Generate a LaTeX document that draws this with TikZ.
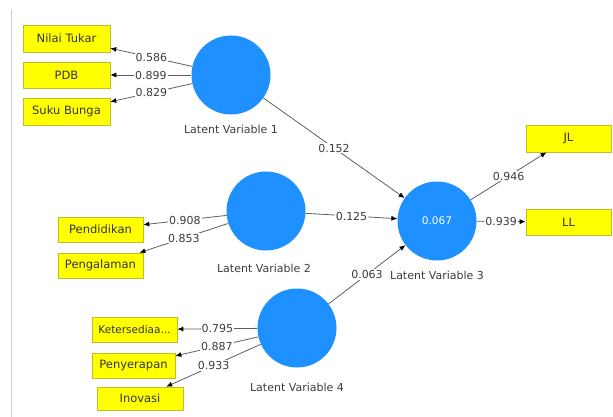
\documentclass[tikz,border=0pt]{standalone}
\usepackage{fontspec}
\setmainfont{DejaVu Sans}
\usetikzlibrary{arrows.meta}
\definecolor{lvblue}{RGB}{30,144,255}
\definecolor{mvyellow}{RGB}{255,255,0}
\definecolor{mvborder}{RGB}{190,190,40}
\definecolor{edgegray}{RGB}{95,95,95}
\definecolor{txtgray}{RGB}{60,60,60}
\tikzset{
  latent/.style={circle, fill=lvblue, draw=none, minimum size=79pt, inner sep=0pt,
    text=white, font=\fontsize{10.5}{12}\selectfont},
  lvlabel/.style={text=txtgray, font=\fontsize{11}{12}\selectfont, inner sep=0pt},
  manifest/.style={rectangle, fill=mvyellow, draw=mvborder, line width=0.6pt,
    inner sep=0pt, text=black!80, font=\fontsize{11.5}{12}\selectfont},
  path/.style={draw=edgegray, line width=0.8pt, -{Latex[length=6pt,width=5pt,color=black]}},
  coef/.style={fill=white, inner sep=1pt, text=txtgray, font=\fontsize{11}{12}\selectfont}
}
\begin{document}
\begin{tikzpicture}[x=1pt,y=-1pt]
\useasboundingbox (0,0) rectangle (613,417);
\draw[black!20, line width=0.8pt] (11,10) -- (11,417);

% latent variables
\node[latent] (lv1) at (231,75) {};
\node[latent] (lv2) at (266,211) {};
\node[latent] (lv3) at (437,221) {0.067};
\node[latent] (lv4) at (297,328) {};

\node[lvlabel] (lab1) at (231,129) {Latent Variable 1};
\node[lvlabel] (lab2) at (264,268) {Latent Variable 2};
\node[lvlabel] (lab3) at (437,275) {Latent Variable 3};
\node[lvlabel] (lab4) at (297,387) {Latent Variable 4};

% indicators
\node[manifest, minimum width=87pt, minimum height=27pt] (nt) at (66.5,38.5) {Nilai Tukar};
\node[manifest, minimum width=87pt, minimum height=26pt] (pdb) at (66.5,75) {PDB};
\node[manifest, minimum width=87pt, minimum height=27pt] (sb) at (66.5,111.5) {Suku Bunga};
\node[manifest, minimum width=85pt, minimum height=25pt] (pend) at (100.5,229.5) {Pendidikan};
\node[manifest, minimum width=85pt, minimum height=25pt] (peng) at (100.5,265.5) {Pengalaman};
\node[manifest, minimum width=85pt, minimum height=25pt, font=\fontsize{10.5}{12}\selectfont] (ket) at (134.5,329.5) {Ketersediaa...};
\node[manifest, minimum width=83pt, minimum height=25pt] (peny) at (133.5,365.5) {Penyerapan};
\node[manifest, minimum width=86pt, minimum height=23pt] (ino) at (140,398.5) {Inovasi};
\node[manifest, minimum width=85pt, minimum height=27pt] (jl) at (568.5,138.5) {JL};
\node[manifest, minimum width=85pt, minimum height=26pt] (ll) at (568.5,222) {LL};

% outer loadings
\draw[path] (lv1) -- node[coef] {0.586} (nt);
\draw[path] (lv1) -- node[coef] {0.899} (pdb);
\draw[path] (lv1) -- node[coef] {0.829} (sb);
\draw[path] (lv2) -- node[coef] {0.908} (pend);
\draw[path] (lv2) -- node[coef] {0.853} (peng);
\draw[path] (lv4) -- node[coef] {0.795} (ket);
\draw[path] (lv4) -- node[coef] {0.887} (peny);
\draw[path] (lv4) -- node[coef] {0.933} (ino);
\draw[path] (lv3) -- node[coef] {0.946} (jl);
\draw[path] (lv3) -- node[coef] {0.939} (ll);

% path coefficients
\draw[path] (lv1) -- node[coef] {0.152} (lv3);
\draw[path] (lv2) -- node[coef] {0.125} (lv3);
\draw[path] (lv4) -- node[coef] {0.063} (lv3);
\end{tikzpicture}
\end{document}
